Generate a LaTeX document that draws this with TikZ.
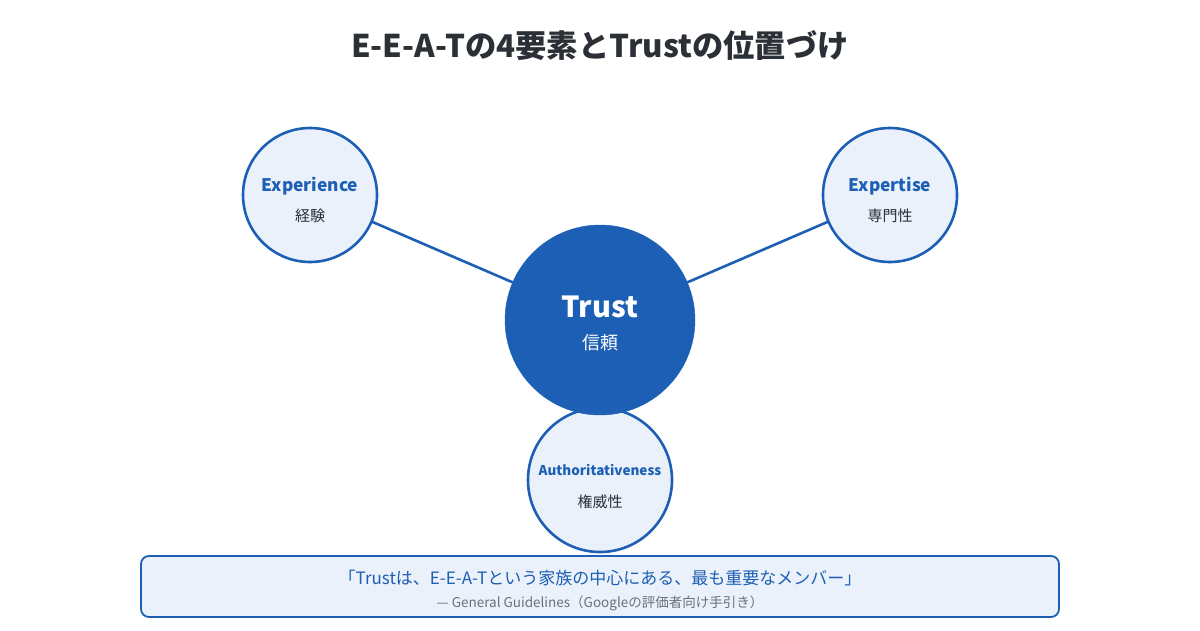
\documentclass[tikz,border=0pt]{standalone}
\usepackage{fontspec}
\setmainfont{Noto Sans CJK JP}
\definecolor{mainblue}{HTML}{1C5FB4}
\definecolor{lightfill}{HTML}{EAF1FA}
\definecolor{titlegray}{HTML}{2B2F36}
\definecolor{textdark}{HTML}{2B2F36}
\definecolor{subgray}{HTML}{6B7079}
\tikzset{
  satellite/.style={circle, draw=mainblue, line width=2.6pt, fill=lightfill, inner sep=0pt},
  hub/.style={circle, fill=mainblue, draw=mainblue, inner sep=0pt},
  link/.style={draw=mainblue, line width=2.6pt},
  engl/.style={font=\bfseries\fontsize{17.3}{20}\selectfont, text=mainblue},
  jpl/.style={font=\fontsize{15}{18}\selectfont, text=textdark},
  quotebox/.style={draw=mainblue, line width=1.8pt, fill=lightfill, rounded corners=8pt}
}
\begin{document}
\begin{tikzpicture}[x=1pt,y=-1pt]
\useasboundingbox[fill=white] (0,0) rectangle (1200,630);
\node[font=\bfseries\fontsize{31.3}{36}\selectfont, text=titlegray] (title) at (600,46) {E-E-A-Tの4要素とTrustの位置づけ};
% circle anchors
\coordinate (cexp) at (310,195);
\coordinate (cexpt) at (890,195);
\coordinate (ctrust) at (600,320);
\coordinate (cauth) at (600,480);
\draw[link] (cexp) -- (ctrust);
\draw[link] (cexpt) -- (ctrust);
\draw[link] (cauth) -- (ctrust);
\node[satellite, minimum size=134pt] (exp) at (cexp) {};
\node[satellite, minimum size=134pt] (expt) at (cexpt) {};
\node[satellite, minimum size=144pt] (auth) at (cauth) {};
\node[hub, minimum size=190pt] (trust) at (ctrust) {};
\node[engl] (expE) at (310,186) {Experience};
\node[jpl] (expJ) at (310,216) {経験};
\node[engl] (exptE) at (890,186) {Expertise};
\node[jpl] (exptJ) at (890,216) {専門性};
\node[font=\bfseries\fontsize{29}{32}\selectfont, text=white] (trustE) at (600,307) {Trust};
\node[font=\fontsize{18}{20}\selectfont, text=white] (trustJ) at (600,343) {信頼};
\node[engl, font=\bfseries\fontsize{13.5}{16}\selectfont] (authE) at (600,470) {Authoritativeness};
\node[jpl] (authJ) at (600,502) {権威性};
% quote box
\path[quotebox] (141,556) rectangle (1059,617);
\node[font=\fontsize{17}{20}\selectfont, text=mainblue] (quote) at (600,578) {「Trustは、E-E-A-Tという家族の中心にある、最も重要なメンバー」};
\node[font=\fontsize{13.5}{15}\selectfont, text=subgray] (src) at (600,603) {— General Guidelines（Googleの評価者向け手引き）};
\end{tikzpicture}
\end{document}
